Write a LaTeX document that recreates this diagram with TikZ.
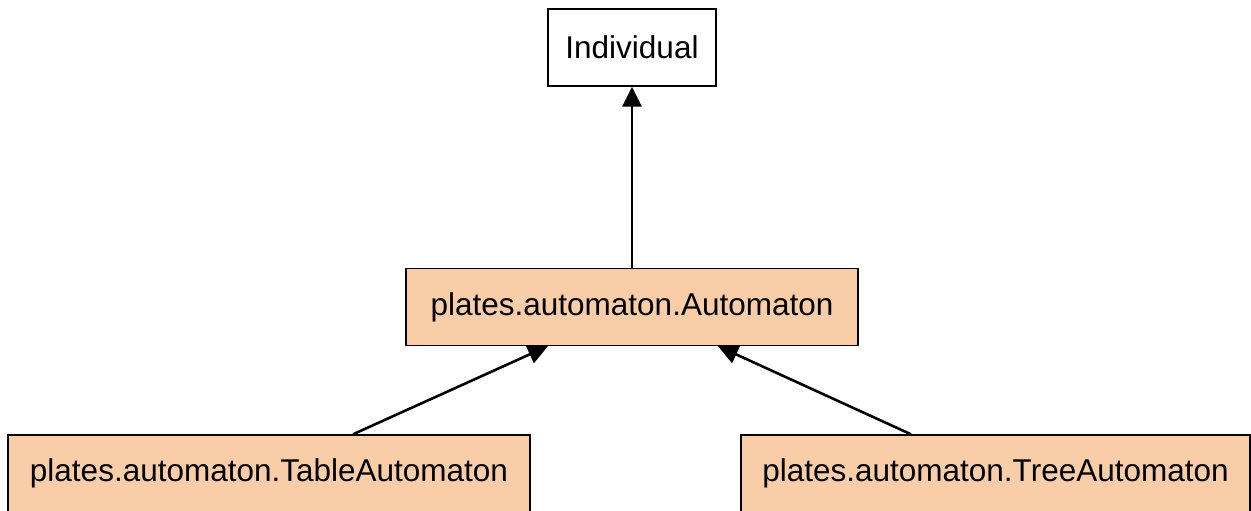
\documentclass[tikz,border=0pt]{standalone}
\usepackage{fontspec}
\setmainfont{Liberation Sans}
\usetikzlibrary{positioning,arrows.meta}
\definecolor{peach}{RGB}{249,205,168}
\begin{document}
\begin{tikzpicture}[x=1pt,y=1pt,
    cls/.style={draw, line width=1.4pt, minimum height=77pt, inner sep=0pt, font=\fontsize{31.5}{36}\selectfont},
    sub/.style={cls, fill=peach},
    isa/.style={line width=2.6pt, -{Triangle[length=20pt,width=19pt]}}]
          \useasboundingbox (0,0) rectangle (1251,-511);

          \node[cls, minimum width=168pt] (ind) at (632,-47.5) {Individual};
          \node[sub, minimum width=452pt, below=181pt of ind] (auto) {plates.automaton.Automaton};

          \node[sub, minimum width=522pt] (tab) at (269,-473.5) {plates.automaton.TableAutomaton};
          \node[sub, minimum width=509pt] (tree) at (995.5,-473.5) {plates.automaton.TreeAutomaton};

          \path[isa]
          (auto) edge (ind)
          ([xshift=84pt]tab.north) edge ([xshift=-84pt]auto.south)
          ([xshift=-84.5pt]tree.north) edge ([xshift=86pt]auto.south);
        \end{tikzpicture}
\end{document}
